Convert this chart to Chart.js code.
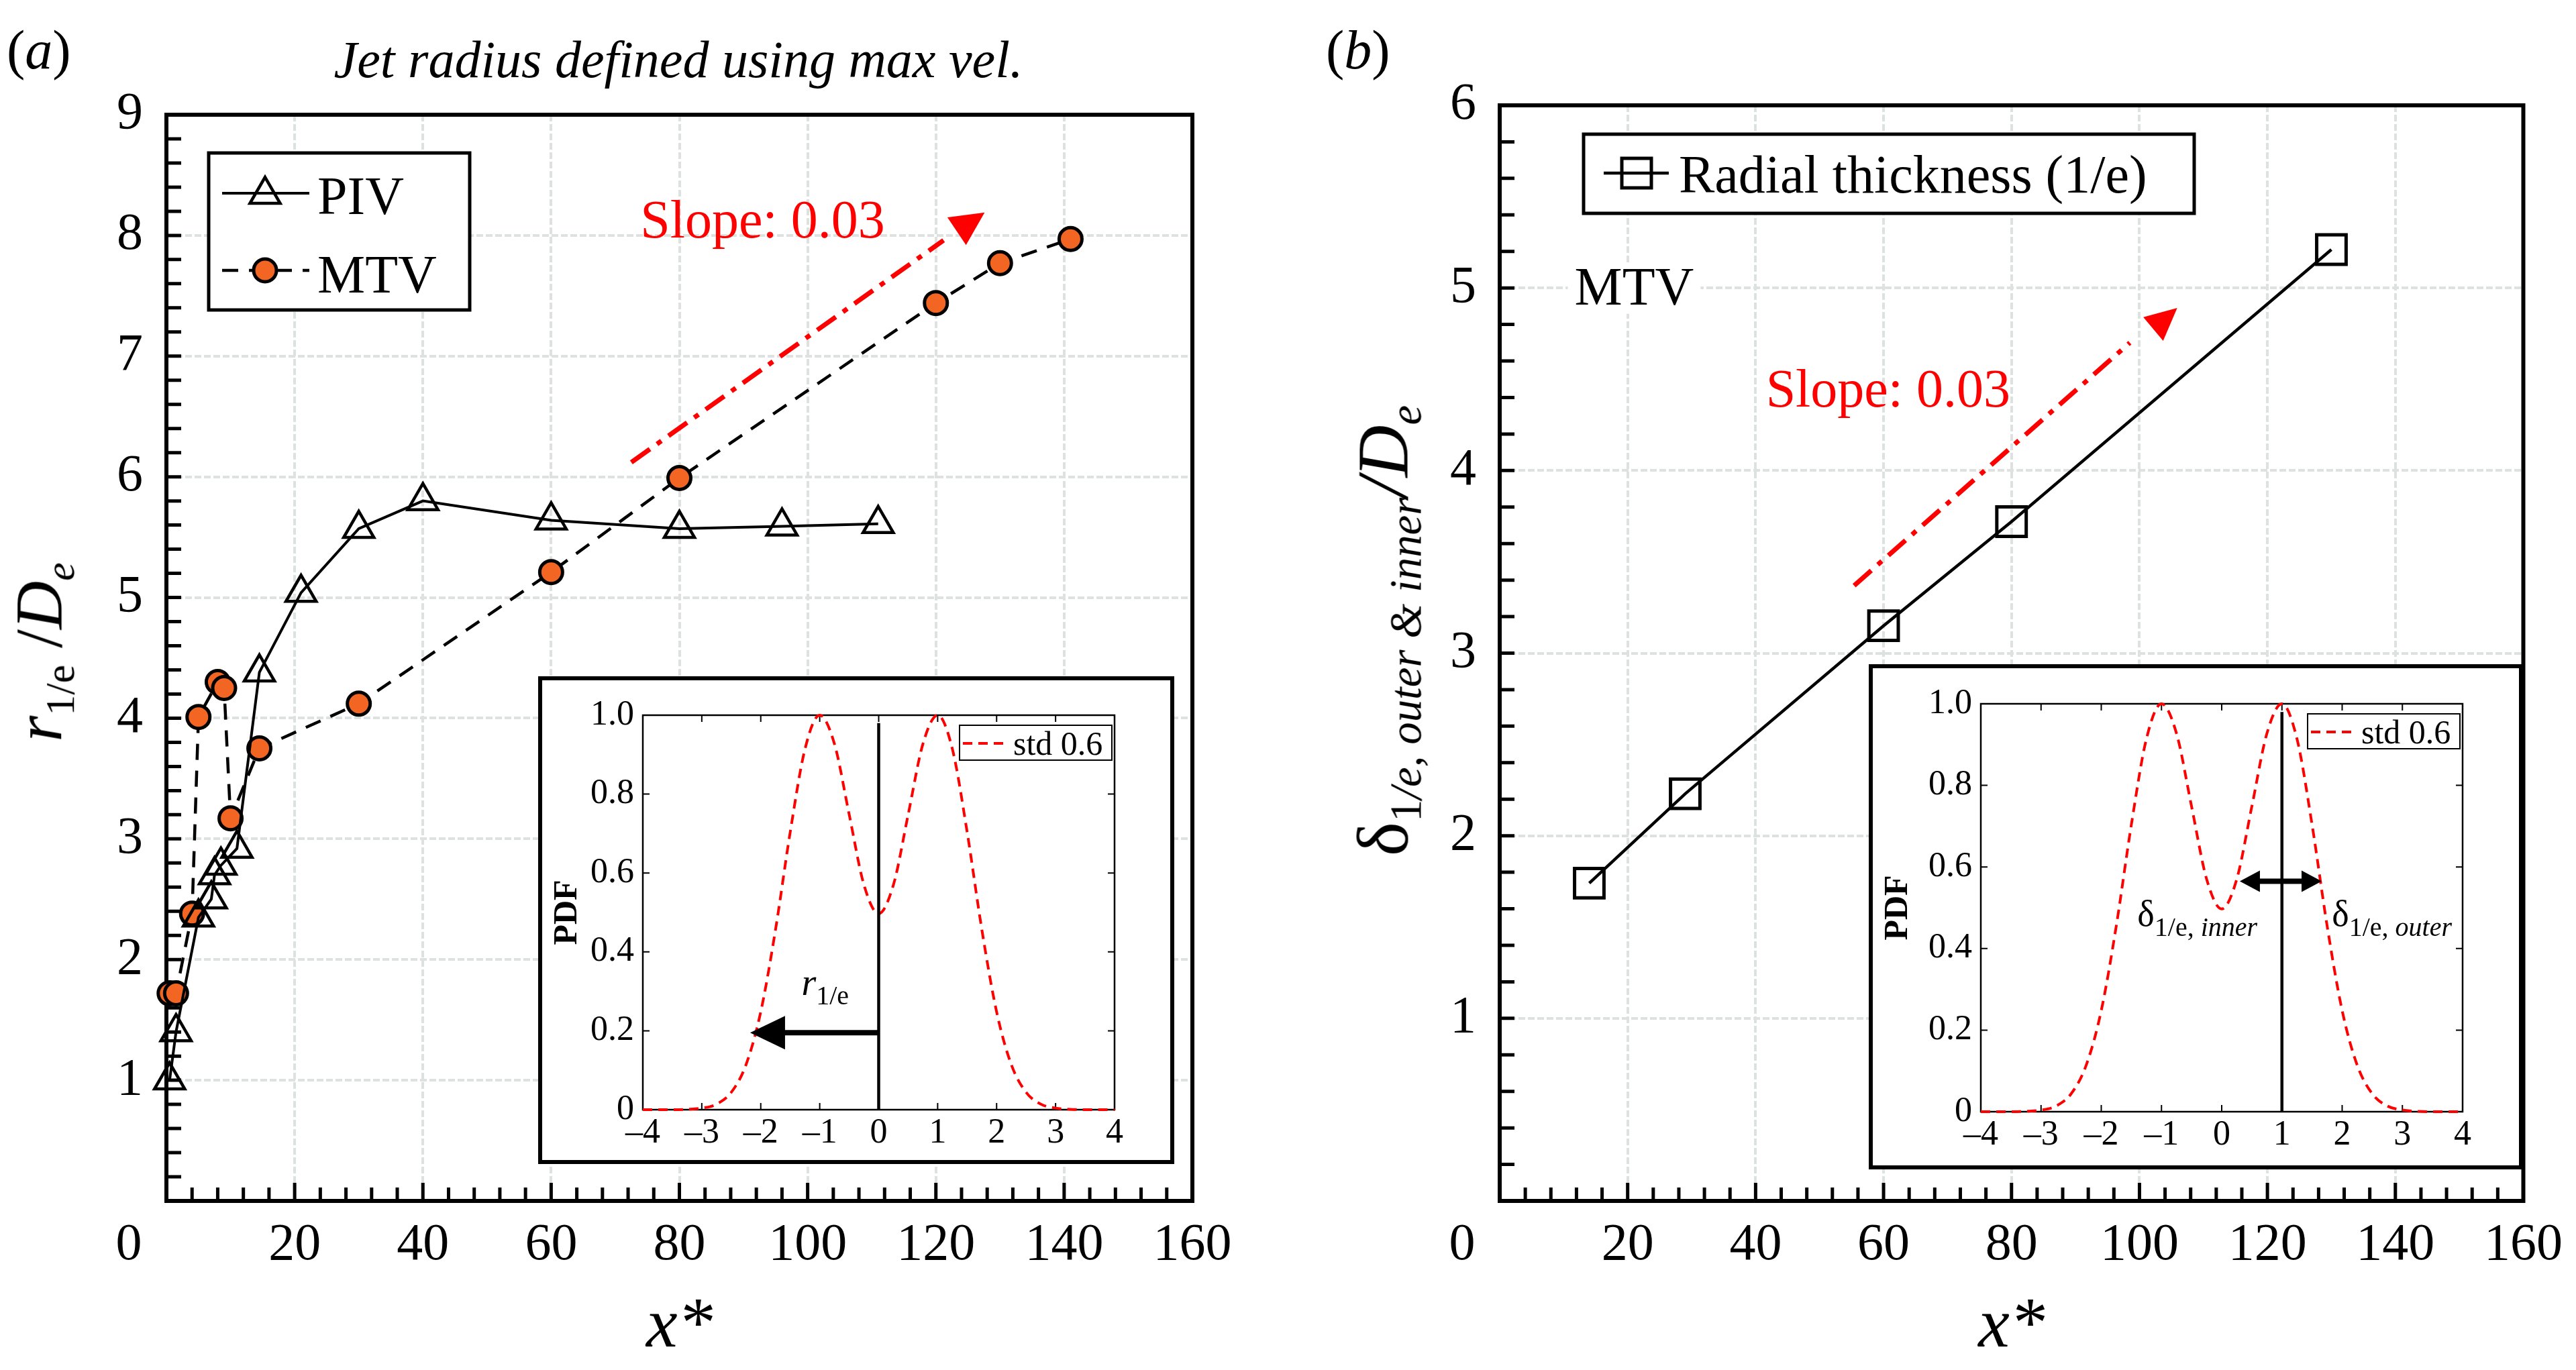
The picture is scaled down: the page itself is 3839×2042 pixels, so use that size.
<!DOCTYPE html>
<html>
<head>
<meta charset="utf-8">
<script src="https://cdn.jsdelivr.net/npm/chart.js@4.4.1/dist/chart.umd.min.js"></script>
<style>
  body { margin: 0; width: 3839px; height: 2042px; background: #fff; position: relative; overflow: hidden;
         font-family: "Liberation Serif", serif; color: #000; }
  canvas { position: absolute; }
  .inset { position: absolute; border: 6px solid #000; background: #fff; }
  .inset canvas { left: 0; top: 0; }
  .txt { position: absolute; white-space: nowrap; line-height: 1; }
  .ytitle { position: absolute; white-space: nowrap; line-height: 1; transform: translate(-50%, -50%) rotate(-90deg); }
  .ytitle sub { font-size: 0.62em; vertical-align: -0.3em; }
</style>
</head>
<body>
<canvas id="chartA" width="1900" height="2042" style="left:0;top:0"></canvas>
<canvas id="chartB" width="1939" height="2042" style="left:1900px;top:0"></canvas>
<div class="inset" style="left:802px;top:1008px;width:936px;height:715px"><canvas id="insetA" width="936" height="715"></canvas></div>
<div class="inset" style="left:2785px;top:990px;width:963px;height:741px"><canvas id="insetB" width="963" height="741"></canvas></div>

<div class="txt" style="left:10px;top:34px;font-size:82px">(<i>a</i>)</div>
<div class="txt" style="left:1011px;top:50px;font-size:78px;font-style:italic;transform:translateX(-50%)">Jet radius defined using max vel.</div>
<div class="txt" style="left:1976px;top:34px;font-size:82px">(<i>b</i>)</div>
<div class="ytitle" style="left:64px;top:972px;font-size:100px"><i>r</i><sub>1/e</sub> /<i>D</i><sub><i>e</i></sub></div>
<div class="ytitle" style="left:2068px;top:940px;font-size:108px">&delta;<sub>1<i>/e, outer &amp; inner</i></sub><i>/D</i><sub><i>e</i></sub></div>

<script>
// panel (a): jet radius
const pivX = [0.5, 1.5, 5, 7, 7.5, 8.5, 11, 14.5, 21, 30, 40, 60, 80, 96, 111];
const pivY = [1.0, 1.4, 2.35, 2.5, 2.7, 2.78, 2.92, 4.38, 5.04, 5.57, 5.8, 5.64, 5.57, 5.59, 5.61];
const mtvX = [0.5, 1.5, 4, 5, 8, 9, 10, 14.5, 30, 60, 80, 120, 130, 141];
const mtvY = [1.72, 1.72, 2.38, 4.01, 4.30, 4.25, 3.17, 3.75, 4.12, 5.21, 5.99, 7.44, 7.77, 7.97];

// panel (b): radial thickness
const thickX = [14, 29, 60, 80, 130];
const thickY = [1.74, 2.23, 3.15, 3.72, 5.21];

// inset PDF curve (std 0.6)
const pdfX = [-4, -3.75, -3.5, -3.25, -3, -2.75, -2.5, -2.25, -2, -1.75, -1.5, -1.25, -1, -0.75, -0.5, -0.25,
              0, 0.25, 0.5, 0.75, 1, 1.25, 1.5, 1.75, 2, 2.25, 2.5, 2.75, 3, 3.25, 3.5, 3.75, 4];
const pdfY = [0, 0, 0, 0.001, 0.004, 0.014, 0.044, 0.114, 0.248, 0.456, 0.704, 0.914, 1.0, 0.927, 0.748, 0.57,
              0.497, 0.57, 0.748, 0.927, 1.0, 0.914, 0.704, 0.456, 0.248, 0.114, 0.044, 0.014, 0.004, 0.001, 0, 0, 0];

// annotations, in data units
const slopeA = { from: [72.5, 6.12], to: [121.2, 7.96], head: [[121.8, 8.15], [127.6, 8.19], [124.7, 7.92]], text: [73.9, 7.98] };
const slopeB = { from: [55.4, 3.37], to: [98.5, 4.70], head: [[100.6, 4.84], [105.9, 4.89], [103.7, 4.71]], text: [41.6, 4.35] };
const slopeLabel = 'Slope: 0.03';

const ORANGE = '#f26522';
const SERIF = '"Liberation Serif", serif';

function pts(xs, ys) {
  return xs.map((x, i) => ({ x: x, y: ys[i] }));
}

function toPx(chart, x, y) {
  return [chart.scales.x.getPixelForValue(x), chart.scales.y.getPixelForValue(y)];
}

// box frame + inward ticks (matlab style)
function framePlugin(o) {
  return {
    id: 'frame',
    beforeDatasetsDraw(chart) {
      const { ctx, chartArea: a, scales: { x, y } } = chart;
      ctx.save();
      ctx.strokeStyle = '#000';
      ctx.lineWidth = o.tickWidth;
      ctx.beginPath();
      const ny = Math.round((y.max - y.min) / o.yStep);
      for (let i = 0; i <= ny; i++) {
        const p = y.getPixelForValue(y.min + i * o.yStep);
        ctx.moveTo(a.left, p); ctx.lineTo(a.left + o.yLen, p);
        if (o.allSides) { ctx.moveTo(a.right, p); ctx.lineTo(a.right - o.yLen, p); }
      }
      const nx = Math.round((x.max - x.min) / o.xStep);
      for (let i = 0; i <= nx; i++) {
        const len = (i % o.xMajorEvery === 0) ? o.xMajorLen : o.xLen;
        const p = x.getPixelForValue(x.min + i * o.xStep);
        ctx.moveTo(p, a.bottom); ctx.lineTo(p, a.bottom - len);
        if (o.allSides) { ctx.moveTo(p, a.top); ctx.lineTo(p, a.top + len); }
      }
      ctx.stroke();
      ctx.lineWidth = o.frame;
      ctx.strokeRect(a.left, a.top, a.right - a.left, a.bottom - a.top);
      ctx.restore();
    }
  };
}

function drawTriangle(ctx, x, y, r) {
  ctx.beginPath();
  ctx.moveTo(x, y - r);
  ctx.lineTo(x + r * Math.sin(Math.PI * 2 / 3), y - r * Math.cos(Math.PI * 2 / 3));
  ctx.lineTo(x - r * Math.sin(Math.PI * 2 / 3), y - r * Math.cos(Math.PI * 2 / 3));
  ctx.closePath();
}

function drawSlope(chart, s) {
  const ctx = chart.ctx;
  const p0 = toPx(chart, s.from[0], s.from[1]);
  const p1 = toPx(chart, s.to[0], s.to[1]);
  ctx.save();
  ctx.strokeStyle = '#ff0000';
  ctx.fillStyle = '#ff0000';
  ctx.lineWidth = 7;
  ctx.setLineDash([34, 13, 8, 13]);
  ctx.beginPath();
  ctx.moveTo(p0[0], p0[1]);
  ctx.lineTo(p1[0], p1[1]);
  ctx.stroke();
  ctx.setLineDash([]);
  ctx.beginPath();
  s.head.forEach((h, i) => {
    const p = toPx(chart, h[0], h[1]);
    if (i === 0) ctx.moveTo(p[0], p[1]); else ctx.lineTo(p[0], p[1]);
  });
  ctx.closePath();
  ctx.fill();
  const t = toPx(chart, s.text[0], s.text[1]);
  ctx.font = '80px ' + SERIF;
  ctx.textBaseline = 'alphabetic';
  ctx.fillText(slopeLabel, t[0], t[1]);
  ctx.restore();
}

// text with subscripts: parts = [[text, font, dy], ...]
function drawRich(ctx, x, y, parts) {
  let cx = x;
  parts.forEach(p => {
    ctx.font = p[1];
    ctx.fillText(p[0], cx, y + p[2]);
    cx += ctx.measureText(p[0]).width;
  });
}

function zeroLabel(chart) {
  const { ctx, chartArea: a } = chart;
  ctx.save();
  ctx.font = '78px ' + SERIF;
  ctx.fillStyle = '#000';
  ctx.textAlign = 'center';
  ctx.textBaseline = 'middle';
  ctx.fillText('0', a.left - 56, a.bottom + 67);
  ctx.restore();
}

function mainScales(xMax, yMax, yAxisWidth) {
  const grid = { color: '#dde1df', lineWidth: 4, drawTicks: false };
  return {
    x: {
      type: 'linear', min: 0, max: xMax,
      grid: grid,
      border: { display: false, dash: [10, 4] },
      ticks: { stepSize: 20, padding: 20, color: '#000', font: { family: SERIF, size: 78 },
               callback: v => v === 0 ? '' : String(v) },
      title: { display: true, text: 'x*', color: '#000', padding: { top: 0, bottom: 0 },
               font: { family: SERIF, size: 105, style: 'italic' } },
      afterFit: s => { s.height = 252; }
    },
    y: {
      type: 'linear', min: 0, max: yMax,
      grid: grid,
      border: { display: false, dash: [10, 4] },
      ticks: { stepSize: 1, padding: 35, color: '#000', font: { family: SERIF, size: 78 },
               callback: v => v === 0 ? '' : String(v) },
      afterFit: s => { s.width = yAxisWidth; }
    }
  };
}

const mainFrame = { frame: 6, tickWidth: 5, yStep: 0.2, yLen: 22, xStep: 4, xLen: 20, xMajorLen: 27, xMajorEvery: 5 };

function arrowHead(ctx, tipX, y, dir, len, half) {
  ctx.beginPath();
  ctx.moveTo(tipX, y);
  ctx.lineTo(tipX - dir * len, y - half);
  ctx.lineTo(tipX - dir * len, y + half);
  ctx.closePath();
  ctx.fill();
}

function insetConfig(extra) {
  return {
    type: 'line',
    data: {
      datasets: [{
        label: 'std 0.6', data: pts(pdfX, pdfY), clip: false,
        borderColor: '#ff0000', borderWidth: 4, borderDash: [14, 9], fill: false,
        cubicInterpolationMode: 'monotone', pointRadius: 0
      }]
    },
    options: {
      responsive: false, animation: false, devicePixelRatio: 1,
      layout: { padding: { left: 0, right: extra.right, top: extra.top, bottom: 0 } },
      plugins: { legend: { display: false }, tooltip: { enabled: false } },
      scales: {
        x: {
          type: 'linear', min: -4, max: 4,
          grid: { display: false, drawTicks: false },
          border: { display: false },
          ticks: { stepSize: 1, padding: 4, color: '#000', font: { family: SERIF, size: 52 },
                   callback: v => v < 0 ? '\u2013' + Math.abs(v) : String(v) },
          afterFit: s => { s.height = extra.xHeight; }
        },
        y: {
          type: 'linear', min: 0, max: 1,
          grid: { display: false, drawTicks: false },
          border: { display: false },
          ticks: { stepSize: 0.2, padding: 13, color: '#000', font: { family: SERIF, size: 52 },
                   callback: v => v === 0 ? '0' : v.toFixed(1) },
          title: { display: true, text: 'PDF', color: '#000', padding: { top: 8, bottom: 0 },
                   font: { family: SERIF, size: 50, weight: 'bold' } },
          afterFit: s => { s.width = extra.yWidth; }
        }
      }
    },
    plugins: [
      framePlugin({ frame: 2.5, tickWidth: 2, yStep: 0.2, yLen: 10, xStep: 1, xLen: 10, xMajorLen: 10, xMajorEvery: 1, allSides: true }),
      {
        id: 'insetExtras',
        afterDatasetsDraw(chart) {
          const { ctx, chartArea: a } = chart;
          ctx.save();
          // vertical reference line
          const v0 = toPx(chart, extra.vline, 0), v1 = toPx(chart, extra.vline, 0.98);
          ctx.strokeStyle = '#000';
          ctx.lineWidth = 4.5;
          ctx.beginPath();
          ctx.moveTo(v0[0], v0[1]); ctx.lineTo(v1[0], v1[1]);
          ctx.stroke();
          extra.draw(chart, ctx);
          // legend
          const bw = 227, bh = 52, L = a.right - 4 - bw, T = a.top + 15;
          ctx.fillStyle = '#fff';
          ctx.fillRect(L, T, bw, bh);
          ctx.strokeStyle = '#000';
          ctx.lineWidth = 2;
          ctx.strokeRect(L, T, bw, bh);
          ctx.strokeStyle = '#ff0000';
          ctx.lineWidth = 4;
          ctx.setLineDash([14, 9]);
          ctx.beginPath();
          ctx.moveTo(L + 5, T + 27); ctx.lineTo(L + 70, T + 27);
          ctx.stroke();
          ctx.setLineDash([]);
          ctx.fillStyle = '#000';
          ctx.font = '50px ' + SERIF;
          ctx.fillText('std 0.6', L + 80, T + 44);
          ctx.restore();
        }
      }
    ]
  };
}

function drawAll() {
  // ---------- panel (a) ----------
  new Chart(document.getElementById('chartA'), {
    type: 'line',
    data: {
      datasets: [
        {
          label: 'PIV', data: pts(pivX, pivY), clip: false,
          borderColor: '#000', borderWidth: 4, fill: false, tension: 0,
          pointStyle: 'triangle', pointRadius: 26, pointBorderWidth: 4.5,
          pointBackgroundColor: 'rgba(0,0,0,0)', pointBorderColor: '#000'
        },
        {
          label: 'MTV', data: pts(mtvX, mtvY), clip: false,
          borderColor: '#000', borderWidth: 4.5, borderDash: [24, 16], fill: false, tension: 0,
          pointStyle: 'circle', pointRadius: 17, pointBorderWidth: 5,
          pointBackgroundColor: ORANGE, pointBorderColor: '#000'
        }
      ]
    },
    options: {
      responsive: false, animation: false, devicePixelRatio: 1,
      layout: { padding: { left: 0, right: 123, top: 171, bottom: 0 } },
      plugins: { legend: { display: false }, tooltip: { enabled: false } },
      scales: mainScales(160, 9, 248)
    },
    plugins: [framePlugin(mainFrame), {
      id: 'extrasA',
      afterDatasetsDraw(chart) {
        drawSlope(chart, slopeA);
      },
      afterDraw(chart) {
        const { ctx, chartArea: a } = chart;
        zeroLabel(chart);
        // legend box
        const L = a.left + 63, T = a.top + 57;
        ctx.save();
        ctx.fillStyle = '#fff';
        ctx.fillRect(L, T, 389, 234);
        ctx.strokeStyle = '#000';
        ctx.lineWidth = 5;
        ctx.strokeRect(L, T, 389, 234);
        ctx.lineWidth = 4;
        ctx.beginPath();
        ctx.moveTo(L + 20, T + 60); ctx.lineTo(L + 150, T + 60);
        ctx.stroke();
        ctx.lineWidth = 4.5;
        drawTriangle(ctx, L + 84, T + 62, 26);
        ctx.stroke();
        ctx.setLineDash([24, 16]);
        ctx.beginPath();
        ctx.moveTo(L + 20, T + 175); ctx.lineTo(L + 150, T + 175);
        ctx.stroke();
        ctx.setLineDash([]);
        ctx.beginPath();
        ctx.arc(L + 84, T + 175, 17, 0, Math.PI * 2);
        ctx.fillStyle = ORANGE;
        ctx.fill();
        ctx.lineWidth = 5;
        ctx.stroke();
        ctx.fillStyle = '#000';
        ctx.font = '80px ' + SERIF;
        ctx.fillText('PIV', L + 162, T + 91);
        ctx.fillText('MTV', L + 162, T + 208);
        ctx.restore();
      }
    }]
  });

  // ---------- panel (b) ----------
  new Chart(document.getElementById('chartB'), {
    type: 'line',
    data: {
      datasets: [
        {
          label: 'Radial thickness (1/e)', data: pts(thickX, thickY), clip: false,
          borderColor: '#000', borderWidth: 4.5, fill: false, tension: 0,
          pointStyle: 'rect', pointRadius: 31, pointBorderWidth: 5,
          pointBackgroundColor: 'rgba(0,0,0,0)', pointBorderColor: '#000'
        }
      ]
    },
    options: {
      responsive: false, animation: false, devicePixelRatio: 1,
      layout: { padding: { left: 0, right: 51, top: 157, bottom: 0 } },
      plugins: { legend: { display: false }, tooltip: { enabled: false } },
      scales: mainScales(160, 6, 335)
    },
    plugins: [framePlugin(mainFrame), {
      id: 'extrasB',
      afterDatasetsDraw(chart) {
        const { ctx } = chart;
        // "MTV" label with white backing
        const m = toPx(chart, 11.7, 4.91);
        ctx.save();
        ctx.font = '80px ' + SERIF;
        const w = ctx.measureText('MTV').width;
        ctx.fillStyle = '#fff';
        ctx.fillRect(m[0] - 10, m[1] - 62, w + 20, 76);
        ctx.fillStyle = '#000';
        ctx.fillText('MTV', m[0], m[1]);
        ctx.restore();
        drawSlope(chart, slopeB);
      },
      afterDraw(chart) {
        const { ctx, chartArea: a } = chart;
        zeroLabel(chart);
        const L = a.left + 125, T = a.top + 43;
        ctx.save();
        ctx.fillStyle = '#fff';
        ctx.fillRect(L, T, 910, 118);
        ctx.strokeStyle = '#000';
        ctx.lineWidth = 5;
        ctx.strokeRect(L, T, 910, 118);
        ctx.lineWidth = 4.5;
        ctx.beginPath();
        ctx.moveTo(L + 30, T + 58); ctx.lineTo(L + 127, T + 58);
        ctx.stroke();
        ctx.lineWidth = 5;
        ctx.strokeRect(L + 79 - 22, T + 58 - 22, 44, 44);
        ctx.fillStyle = '#000';
        ctx.font = '80px ' + SERIF;
        ctx.fillText('Radial thickness (1/e)', L + 142, T + 87);
        ctx.restore();
      }
    }]
  });

  // ---------- insets ----------
  new Chart(document.getElementById('insetA'), insetConfig({
    right: 83, top: 52, xHeight: 75, yWidth: 150, vline: 0,
    draw(chart, ctx) {
      const s = toPx(chart, 0, 0.195), t = toPx(chart, -2.18, 0.195);
      ctx.fillStyle = '#000';
      ctx.lineWidth = 8;
      ctx.beginPath();
      ctx.moveTo(s[0], s[1]); ctx.lineTo(t[0] + 50, t[1]);
      ctx.stroke();
      arrowHead(ctx, t[0], t[1], -1, 52, 25);
      const r = toPx(chart, -1.31, 0.291);
      drawRich(ctx, r[0], r[1], [['r', 'italic 56px ' + SERIF, 0], ['1/e', '40px ' + SERIF, 14]]);
    }
  }));

  new Chart(document.getElementById('insetB'), insetConfig({
    right: 84, top: 53, xHeight: 80, yWidth: 161, vline: 1,
    draw(chart, ctx) {
      const s = toPx(chart, 0.30, 0.565), t = toPx(chart, 1.66, 0.565);
      ctx.fillStyle = '#000';
      ctx.lineWidth = 8;
      ctx.beginPath();
      ctx.moveTo(s[0] + 28, s[1]); ctx.lineTo(t[0] - 28, t[1]);
      ctx.stroke();
      arrowHead(ctx, s[0], s[1], -1, 30, 16);
      arrowHead(ctx, t[0], t[1], 1, 30, 16);
      const i = toPx(chart, -1.40, 0.456), o = toPx(chart, 1.83, 0.456);
      const sub = '40px ' + SERIF, subI = 'italic 40px ' + SERIF, big = '54px ' + SERIF;
      drawRich(ctx, i[0], i[1], [['\u03b4', big, 0], ['1/e, ', sub, 15], ['inner', subI, 15]]);
      drawRich(ctx, o[0], o[1], [['\u03b4', big, 0], ['1/e, ', sub, 15], ['outer', subI, 15]]);
    }
  }));
}

// make sure the serif faces are ready before the canvases draw text
const fontSpecs = ['78px "Liberation Serif"', 'italic 78px "Liberation Serif"', 'bold 50px "Liberation Serif"'];
Promise.all(fontSpecs.map(f => document.fonts.load(f))).then(drawAll, drawAll);
</script>
</body>
</html>
